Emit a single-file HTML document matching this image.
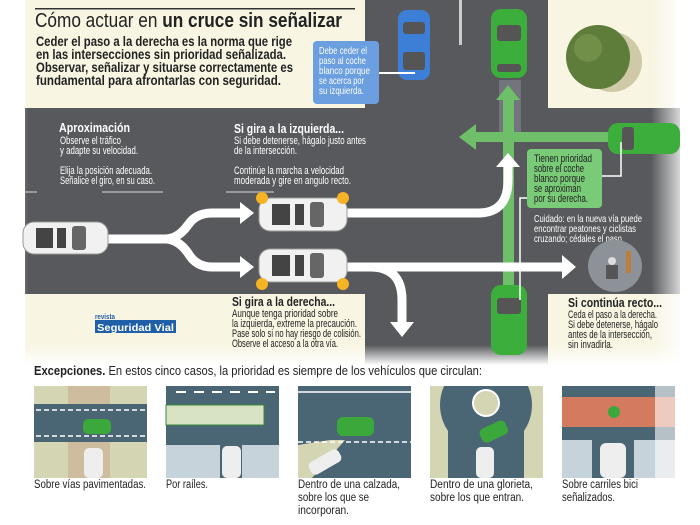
<!DOCTYPE html>
<html><head><meta charset="utf-8"><style>
html,body{margin:0;padding:0;background:#fff;}
svg{display:block}
text{font-family:"Liberation Sans",sans-serif;}
</style></head><body>
<svg width="700" height="525" viewBox="0 0 700 525" xmlns="http://www.w3.org/2000/svg">
<defs>
<linearGradient id="fl" x1="0" x2="1"><stop offset="0" stop-color="#fff"/><stop offset="0.04" stop-color="#fff" stop-opacity="0"/><stop offset="0.93" stop-color="#fff" stop-opacity="0"/><stop offset="0.985" stop-color="#fff"/></linearGradient>
<linearGradient id="fd" x1="0" y1="0" x2="0" y2="1"><stop offset="0" stop-color="#fff" stop-opacity="0"/><stop offset="1" stop-color="#fff"/></linearGradient>
<clipPath id="c4"><rect x="430" y="386" width="113" height="92"/></clipPath>
</defs>
<rect x="25" y="0" width="650" height="365" fill="#f8f5e3"/>
<rect x="365" y="0" width="183" height="365" fill="#57595c"/>
<rect x="25" y="108" width="655" height="186" fill="#57595c"/>
<path d="M548 0 H675 V108 H575 Q548 108 548 80 Z" fill="#f8f5e3"/>
<path d="M25 294 H338 Q365 294 365 320 V365 H25 Z" fill="#f8f5e3"/>
<path d="M575 294 H680 V365 H548 V320 Q548 294 575 294 Z" fill="#f8f5e3"/>
<rect x="0" y="0" width="700" height="365" fill="url(#fl)"/>
<rect x="0" y="345" width="700" height="20" fill="url(#fd)"/>
<rect x="459" y="0" width="3" height="45" fill="#ccc"/>
<rect x="102" y="191" width="61" height="2" fill="#999"/>
<rect x="226" y="191" width="48" height="2" fill="#999"/>
<rect x="25" y="191" width="12" height="2" fill="#999"/>
<!-- tree -->
<circle cx="612" cy="62" r="30" fill="#cfc9a8"/>
<circle cx="598" cy="57" r="32" fill="#5e7d3a"/>
<circle cx="588" cy="48" r="14" fill="#728f4a"/>
<!-- title -->
<rect x="35" y="8" width="320" height="1.5" fill="#333"/>
<text x="35" y="27" font-size="20" fill="#222" textLength="307" lengthAdjust="spacingAndGlyphs"><tspan font-weight="300">Cómo actuar en </tspan><tspan font-weight="bold">un cruce sin señalizar</tspan></text>
<g font-size="13.5" font-weight="bold" fill="#222">
<text x="36" y="46" textLength="256" lengthAdjust="spacingAndGlyphs">Ceder el paso a la derecha es la norma que rige</text>
<text x="36" y="59" textLength="250" lengthAdjust="spacingAndGlyphs">en las intersecciones sin prioridad señalizada.</text>
<text x="36" y="72" textLength="257" lengthAdjust="spacingAndGlyphs">Observar, señalizar y situarse correctamente es</text>
<text x="36" y="85" textLength="245" lengthAdjust="spacingAndGlyphs">fundamental para afrontarlas con seguridad.</text>
</g>
<!-- blue car -->
<rect x="398" y="10" width="32" height="70" rx="9" fill="#3d7fd6"/>
<rect x="403" y="22" width="22" height="12" rx="3" fill="#555"/>
<rect x="403" y="52" width="22" height="18" rx="3" fill="#555"/>
<!-- blue callout -->
<rect x="313" y="41" width="66" height="63" rx="4" fill="#6b9fdf"/>
<rect x="379" y="72" width="36" height="2" fill="#fff"/>
<g font-size="10.5" fill="#fff">
<text x="319" y="54" textLength="48" lengthAdjust="spacingAndGlyphs">Debe ceder el</text>
<text x="319" y="64" textLength="47" lengthAdjust="spacingAndGlyphs">paso al coche</text>
<text x="319" y="74" textLength="51" lengthAdjust="spacingAndGlyphs">blanco porque</text>
<text x="319" y="84" textLength="45" lengthAdjust="spacingAndGlyphs">se acerca por</text>
<text x="319" y="94" textLength="45" lengthAdjust="spacingAndGlyphs">su izquierda.</text>
</g>
<!-- green arrows -->
<rect x="499" y="80" width="22" height="55" fill="#aab" opacity="0.35"/>
<rect x="503" y="98" width="11" height="190" fill="#6fbf6a"/>
<polygon points="496,100 508,85 520,100" fill="#6fbf6a"/>
<rect x="474" y="132" width="136" height="10" fill="#6fbf6a"/>
<polygon points="476,124 459,137 476,150" fill="#6fbf6a"/>
<!-- green cars -->
<rect x="491" y="9" width="36" height="69" rx="10" fill="#3cae3c"/>
<rect x="497" y="25" width="24" height="16" rx="3" fill="#555"/>
<rect x="497" y="64" width="24" height="8" rx="3" fill="#555"/>
<rect x="608" y="123" width="72" height="31" rx="10" fill="#3cae3c"/>
<rect x="622" y="127" width="12" height="23" rx="3" fill="#555"/>
<rect x="491" y="285" width="36" height="70" rx="10" fill="#3cae3c"/>
<rect x="497" y="298" width="24" height="16" rx="3" fill="#555"/>
<!-- green callout -->
<rect x="527" y="149" width="75" height="59" rx="4" fill="#7acb78"/>
<path d="M602 176 H621 V142" stroke="#fff" stroke-width="1.5" fill="none"/>
<path d="M527 198 H520 V300" stroke="#fff" stroke-width="1.5" fill="none"/>
<g font-size="11" fill="#222">
<text x="534" y="162" textLength="58" lengthAdjust="spacingAndGlyphs">Tienen prioridad</text>
<text x="534" y="172" textLength="50" lengthAdjust="spacingAndGlyphs">sobre el coche</text>
<text x="534" y="182" textLength="51" lengthAdjust="spacingAndGlyphs">blanco porque</text>
<text x="534" y="192" textLength="47" lengthAdjust="spacingAndGlyphs">se aproximan</text>
<text x="534" y="202" textLength="54" lengthAdjust="spacingAndGlyphs">por su derecha.</text>
</g>
<g font-size="10.5" fill="#fff">
<text x="534" y="222" textLength="108" lengthAdjust="spacingAndGlyphs">Cuidado: en la nueva vía puede</text>
<text x="534" y="232" textLength="102" lengthAdjust="spacingAndGlyphs">encontrar peatones y ciclistas</text>
<text x="534" y="242" textLength="90" lengthAdjust="spacingAndGlyphs">cruzando; cédales el paso.</text>
</g>
<ellipse cx="615" cy="266" rx="27" ry="26" fill="#8d9299"/>
<circle cx="612" cy="261" r="4" fill="#ddd"/><rect x="606" y="265" width="12" height="14" fill="#555"/>
<rect x="626" y="251" width="5" height="22" fill="#b8803c"/>
<!-- white arrows -->
<g fill="none" stroke="#fff" stroke-width="9">
<path d="M105 239 H165 Q178 239 188 225 Q196 213 212 213 H244"/>
<path d="M165 239 Q178 239 188 253 Q196 267 212 267 H244"/>
<path d="M345 213 H478 Q508 213 508 180 V166"/>
<path d="M345 267 H563"/>
<path d="M370 267 Q402 267 402 300 V323"/>
</g>
<polygon points="240,202 254,213 240,224" fill="#fff"/>
<polygon points="240,256 254,267 240,278" fill="#fff"/>
<polygon points="496,167 508,153 520,167" fill="#fff"/>
<polygon points="562,255 576,267 562,279" fill="#fff"/>
<polygon points="390,322 402,337 414,322" fill="#fff"/>
<!-- white cars -->
<g>
<rect x="23" y="222" width="85" height="32" rx="11" fill="#f1f1f1" stroke="#999"/>
<rect x="36" y="228" width="17" height="20" fill="#444"/><rect x="57" y="228" width="9" height="20" fill="#444"/><rect x="72" y="226" width="14" height="24" rx="3" fill="#666"/>
<rect x="259" y="198" width="88" height="33" rx="11" fill="#f1f1f1" stroke="#999"/>
<rect x="272" y="204" width="18" height="21" fill="#444"/><rect x="295" y="204" width="9" height="21" fill="#444"/><rect x="310" y="202" width="14" height="25" rx="3" fill="#666"/>
<rect x="259" y="249" width="88" height="33" rx="11" fill="#f1f1f1" stroke="#999"/>
<rect x="272" y="255" width="18" height="21" fill="#444"/><rect x="295" y="255" width="9" height="21" fill="#444"/><rect x="310" y="253" width="14" height="25" rx="3" fill="#666"/>
<circle cx="262" cy="198" r="6" fill="#f6b324"/><circle cx="343" cy="198" r="6" fill="#f6b324"/>
<circle cx="262" cy="284" r="6" fill="#f6b324"/><circle cx="343" cy="284" r="6" fill="#f6b324"/>
</g>
<!-- road texts -->
<g fill="#fff">
<text x="59" y="132" font-size="12.5" font-weight="bold" textLength="71" lengthAdjust="spacingAndGlyphs">Aproximación</text>
<g font-size="11">
<text x="60" y="144" textLength="61" lengthAdjust="spacingAndGlyphs">Observe el tráfico</text>
<text x="60" y="154" textLength="78" lengthAdjust="spacingAndGlyphs">y adapte su velocidad.</text>
<text x="60" y="174" textLength="92" lengthAdjust="spacingAndGlyphs">Elija la posición adecuada.</text>
<text x="60" y="184" textLength="95" lengthAdjust="spacingAndGlyphs">Señalice el giro, en su caso.</text>
</g>
<text x="234" y="133" font-size="12.5" font-weight="bold" textLength="110" lengthAdjust="spacingAndGlyphs">Si gira a la izquierda...</text>
<g font-size="11">
<text x="234" y="144" textLength="132" lengthAdjust="spacingAndGlyphs">Si debe detenerse, hágalo justo antes</text>
<text x="234" y="154" textLength="63" lengthAdjust="spacingAndGlyphs">de la intersección.</text>
<text x="234" y="174" textLength="110" lengthAdjust="spacingAndGlyphs">Continúe la marcha a velocidad</text>
<text x="234" y="184" textLength="117" lengthAdjust="spacingAndGlyphs">moderada y gire en angulo recto.</text>
</g>
</g>
<g fill="#222">
<text x="232" y="306" font-size="12.5" font-weight="bold" textLength="103" lengthAdjust="spacingAndGlyphs">Si gira a la derecha...</text>
<g font-size="11">
<text x="232" y="317" textLength="106" lengthAdjust="spacingAndGlyphs">Aunque tenga prioridad sobre</text>
<text x="232" y="327" textLength="125" lengthAdjust="spacingAndGlyphs">la izquierda, extreme la precaución.</text>
<text x="232" y="337" textLength="129" lengthAdjust="spacingAndGlyphs">Pase solo si no hay riesgo de colisión.</text>
<text x="232" y="347" textLength="106" lengthAdjust="spacingAndGlyphs">Observe el acceso a la otra vía.</text>
</g>
<text x="568" y="307" font-size="12.5" font-weight="bold" textLength="94" lengthAdjust="spacingAndGlyphs">Si continúa recto...</text>
<g font-size="11">
<text x="568" y="318" textLength="89" lengthAdjust="spacingAndGlyphs">Ceda el paso a la derecha.</text>
<text x="568" y="328" textLength="90" lengthAdjust="spacingAndGlyphs">Si debe detenerse, hágalo</text>
<text x="568" y="338" textLength="84" lengthAdjust="spacingAndGlyphs">antes de la intersección,</text>
<text x="568" y="348" textLength="45" lengthAdjust="spacingAndGlyphs">sin invadirla.</text>
</g>
</g>
<rect x="95" y="320" width="81" height="13" fill="#1f5fa8"/>
<text x="95" y="319" font-size="7" font-weight="bold" fill="#1f5fa8" textLength="20" lengthAdjust="spacingAndGlyphs">revista</text>
<text x="97" y="331" font-size="10.5" font-weight="bold" fill="#fff" textLength="77" lengthAdjust="spacingAndGlyphs">Seguridad Vial</text>
<!-- exceptions -->
<text x="34" y="375" font-size="13" fill="#222" textLength="448" lengthAdjust="spacingAndGlyphs"><tspan font-weight="bold">Excepciones.</tspan> En estos cinco casos, la prioridad es siempre de los vehículos que circulan:</text>
<g>
<rect x="34" y="386" width="113" height="92" fill="#d3d5b3"/><rect x="68" y="386" width="42" height="92" fill="#c9ab8e" opacity="0.6"/>
<rect x="34" y="404" width="113" height="38" fill="#4a6573"/>
<path d="M36 410 H145 M36 436 H145" stroke="#fff" stroke-width="1.5" stroke-dasharray="5 3"/>
<rect x="83" y="419" width="28" height="15" rx="5" fill="#3aa83a"/><rect x="84" y="448" width="19" height="30" rx="5" fill="#eee"/>
<rect x="166" y="386" width="113" height="92" fill="#4a6573"/><rect x="166" y="445" width="113" height="33" fill="#c7d3da"/><rect x="220" y="445" width="22" height="33" fill="#4a6573"/>
<path d="M176 392 H275" stroke="#fff" stroke-width="2" stroke-dasharray="10 8"/>
<rect x="166" y="405" width="98" height="20" fill="#d8e3c4" stroke="#3a8a3a"/><rect x="222" y="446" width="19" height="32" rx="5" fill="#eee"/>
<rect x="298" y="386" width="113" height="92" fill="#4a6573"/><polygon points="298,445 330,440 411,440 411,478 298,478" fill="#d3d5b3"/><polygon points="312,478 345,440 411,440 411,478" fill="#4a6573"/>
<path d="M298 442 H411" stroke="#fff" stroke-width="1.5" stroke-dasharray="5 3"/><path d="M298 392 H411" stroke="#fff" stroke-width="1.5"/>
<rect x="337" y="417" width="37" height="19" rx="6" fill="#3aa83a"/><rect x="308" y="455" width="34" height="14" rx="5" fill="#eee" transform="rotate(-30 325 462)"/>
<g clip-path="url(#c4)">
<rect x="430" y="386" width="113" height="92" fill="#d3d5b3"/><circle cx="486" cy="405" r="46" fill="#4a6573"/><rect x="448" y="430" width="76" height="48" fill="#4a6573"/><circle cx="486" cy="403" r="13" fill="#d3d5b3" stroke="#fff" stroke-width="2"/>
<rect x="480" y="424" width="28" height="15" rx="5" fill="#3aa83a" transform="rotate(-25 494 432)"/><rect x="476" y="447" width="18" height="31" rx="5" fill="#eee"/>
</g>
<rect x="562" y="386" width="113" height="92" fill="#4a6573"/><rect x="562" y="397" width="113" height="30" fill="#d47a5f"/><rect x="562" y="440" width="113" height="38" fill="#c7d3da"/><rect x="592" y="436" width="42" height="42" fill="#4a6573"/>
<rect x="600" y="443" width="26" height="35" rx="6" fill="#eee"/><circle cx="614" cy="412" r="6" fill="#3aa83a"/>
<rect x="655" y="386" width="20" height="92" fill="#fff" opacity="0.6"/>
</g>
<g font-size="11.5" fill="#222">
<text x="34" y="488" textLength="112" lengthAdjust="spacingAndGlyphs">Sobre vías pavimentadas.</text>
<text x="166" y="488" textLength="42" lengthAdjust="spacingAndGlyphs">Por raíles.</text>
<text x="298" y="488" textLength="102" lengthAdjust="spacingAndGlyphs">Dentro de una calzada,</text>
<text x="298" y="501" textLength="71" lengthAdjust="spacingAndGlyphs">sobre los que se</text>
<text x="298" y="514" textLength="51" lengthAdjust="spacingAndGlyphs">incorporan.</text>
<text x="430" y="488" textLength="103" lengthAdjust="spacingAndGlyphs">Dentro de una glorieta,</text>
<text x="430" y="501" textLength="94" lengthAdjust="spacingAndGlyphs">sobre los que entran.</text>
<text x="562" y="488" textLength="76" lengthAdjust="spacingAndGlyphs">Sobre carriles bici</text>
<text x="562" y="501" textLength="53" lengthAdjust="spacingAndGlyphs">señalizados.</text>
</g>
</svg>
</body></html>
